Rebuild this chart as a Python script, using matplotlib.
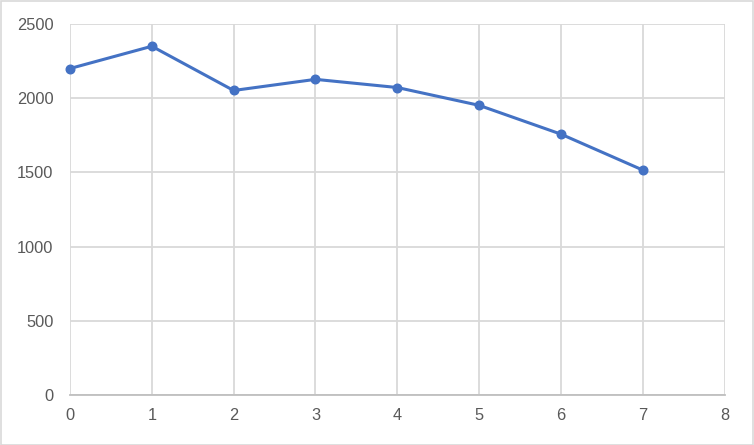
import matplotlib
matplotlib.use("Agg")
from matplotlib import pyplot as plt
from matplotlib import patches

# values
x_values = [0, 1, 2, 3, 4, 5, 6, 7]
y_values = [2200, 2350, 2052, 2127, 2072, 1952, 1758, 1516]
x_ticks = [0, 1, 2, 3, 4, 5, 6, 7, 8]
y_ticks = [0, 500, 1000, 1500, 2000, 2500]

LINE_COLOR = '#4472C4'
GRID_COLOR = '#D9D9D9'
TEXT_COLOR = '#595959'

plt.rcParams['font.family'] = ['Liberation Sans', 'DejaVu Sans']

fig = plt.figure(figsize=(7.54, 4.45), dpi=100)
ax = fig.add_axes([70 / 754, 1 - 395 / 445, (724.5 - 70) / 754, (395 - 24) / 445])

ax.plot(x_values, y_values, color=LINE_COLOR, linewidth=2.2,
        marker='o', markersize=6.2, clip_on=False, zorder=3)

ax.set_xlim(0, 8)
ax.set_ylim(0, 2500)
ax.set_xticks(x_ticks)
ax.set_yticks(y_ticks)
ax.grid(True, color=GRID_COLOR, linewidth=1.3)
ax.set_axisbelow(True)

for name, spine in ax.spines.items():
    if name == 'bottom':
        spine.set_color('#BFBFBF')
        spine.set_linewidth(1.3)
    else:
        spine.set_visible(False)

ax.tick_params(length=0, labelsize=11.8, colors=TEXT_COLOR)
ax.tick_params(axis='x', pad=9)
ax.tick_params(axis='y', pad=12)

# light border round the chart area
fig.patches.append(patches.Rectangle((0.5 / 754, 0.5 / 445), 1 - 1.5 / 754, 1 - 1.5 / 445,
                                     transform=fig.transFigure, fill=False,
                                     edgecolor=GRID_COLOR, linewidth=1.2))

fig.savefig('out.png', dpi=100)
